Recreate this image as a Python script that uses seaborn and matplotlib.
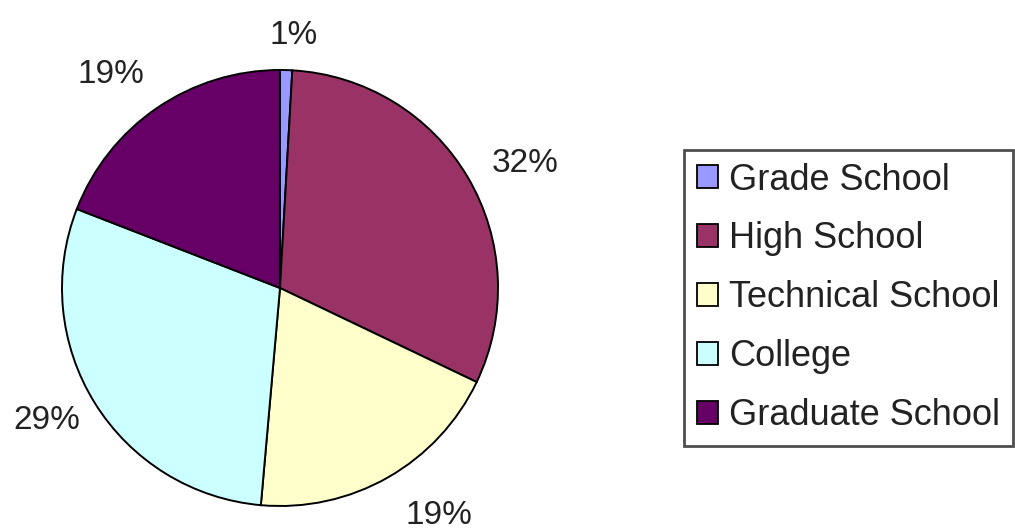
import matplotlib
matplotlib.use("Agg")
import matplotlib.pyplot as plt
import seaborn as sns
from matplotlib.patches import Patch

sns.set_theme(style="white")
plt.rcParams['font.family'] = ['Liberation Sans', 'DejaVu Sans']

categories = ["Grade School", "High School", "Technical School", "College", "Graduate School"]
values = [0.9, 31.2, 19.3, 29.5, 19.1]   # slice sizes as drawn in the picture
pct_labels = ["1%", "32%", "19%", "29%", "19%"]
colors = ["#9999FF", "#993366", "#FFFFCC", "#CCFFFF", "#660066"]

W, H = 1015, 531
fig = plt.figure(figsize=(W / 100, H / 100), dpi=100)
ax = fig.add_axes([0, 0, 1, 1])

cx, cy, r = 280, H - 288, 218
wedges, texts = ax.pie(values, colors=colors, labels=pct_labels, startangle=90,
                       counterclock=False, center=(cx, cy), radius=r,
                       labeldistance=1.2, frame=True,
                       wedgeprops=dict(edgecolor="black", linewidth=1.4),
                       textprops=dict(fontsize=24, color="#222222"))
ax.set_xlim(0, W)
ax.set_ylim(0, H)
ax.set_aspect("equal")
ax.axis("off")

# label offsets (px) to follow the reference placement
offsets = [(6, -9), (20, -9), (29, 0), (-11, 6), (-21, -2)]
for t, (dx, dy) in zip(texts, offsets):
    t.set_ha("center")
    t.set_va("center")
    x, y = t.get_position()
    t.set_position((x + dx, y + dy))

handles = [Patch(facecolor=c, edgecolor="black", linewidth=1.3) for c in colors]
leg = fig.legend(handles, categories, loc="upper left",
                 bbox_to_anchor=(684 / W, 1 - 150 / H), frameon=True,
                 fancybox=False, fontsize=26, handlelength=0.6, handleheight=0.6,
                 handletextpad=0.3, labelspacing=0.66, borderpad=0.35,
                 borderaxespad=0)
leg.get_frame().set_edgecolor("#222222")
leg.get_frame().set_linewidth(2)
for t in leg.get_texts():
    t.set_color("#222222")

fig.savefig("out.png", dpi=100)
